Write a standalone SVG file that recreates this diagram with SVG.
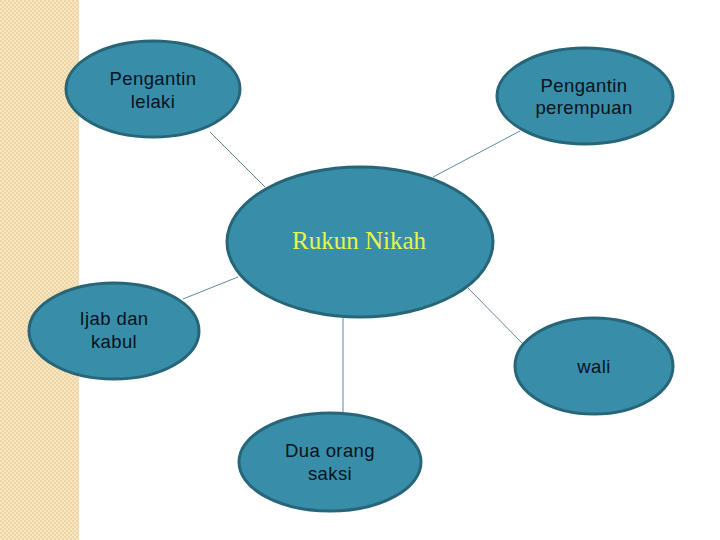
<svg xmlns="http://www.w3.org/2000/svg" width="720" height="540" viewBox="0 0 720 540">
<defs>
<pattern id="chk" width="4" height="4" patternUnits="userSpaceOnUse">
<rect width="4" height="4" fill="#f6e6c3"/>
<rect width="2" height="2" fill="#eed5a4"/>
<rect x="2" y="2" width="2" height="2" fill="#eed5a4"/>
</pattern>
<style>
.node{fill:#388ea8;stroke:#276578;stroke-width:3}
.lbl{font-family:"Liberation Sans",Arial,sans-serif;font-size:18.5px;fill:#08121b;text-anchor:middle;letter-spacing:0.4px}
.conn{stroke:#5e8a99;stroke-width:1;fill:none}
.title{font-family:"Liberation Serif","DejaVu Serif",serif;font-size:25px;fill:#e4f74a;text-anchor:middle}
</style>
</defs>
<rect width="720" height="540" fill="#ffffff"/>
<rect x="0" y="0" width="79" height="540" fill="url(#chk)"/>
<g id="connectors">
<line class="conn" x1="210" y1="132" x2="265" y2="187"/>
<line class="conn" x1="520" y1="131" x2="433" y2="177"/>
<line class="conn" x1="183" y1="299" x2="238" y2="277"/>
<line class="conn" x1="468" y1="288" x2="522" y2="343"/>
<line class="conn" x1="343" y1="318" x2="343" y2="413"/>
</g>
<g id="rukun-nikah">
<ellipse class="node" cx="360" cy="242" rx="133" ry="75"/>
<text class="title" x="359" y="249">Rukun Nikah</text>
</g>
<g id="pengantin-lelaki">
<ellipse class="node" cx="153" cy="89" rx="87" ry="48"/>
<text class="lbl" x="153" y="85">Pengantin</text>
<text class="lbl" x="153" y="108">lelaki</text>
</g>
<g id="pengantin-perempuan">
<ellipse class="node" cx="585" cy="96" rx="88" ry="48"/>
<text class="lbl" x="584" y="92">Pengantin</text>
<text class="lbl" x="584" y="114">perempuan</text>
</g>
<g id="ijab-dan-kabul">
<ellipse class="node" cx="114" cy="331" rx="85" ry="48"/>
<text class="lbl" x="114" y="325">Ijab dan</text>
<text class="lbl" x="114" y="348">kabul</text>
</g>
<g id="wali">
<ellipse class="node" cx="594" cy="366" rx="79" ry="48"/>
<text class="lbl" x="594" y="373">wali</text>
</g>
<g id="dua-orang-saksi">
<ellipse class="node" cx="330" cy="462" rx="91" ry="49"/>
<text class="lbl" x="330" y="457">Dua orang</text>
<text class="lbl" x="330" y="480">saksi</text>
</g>
</svg>
